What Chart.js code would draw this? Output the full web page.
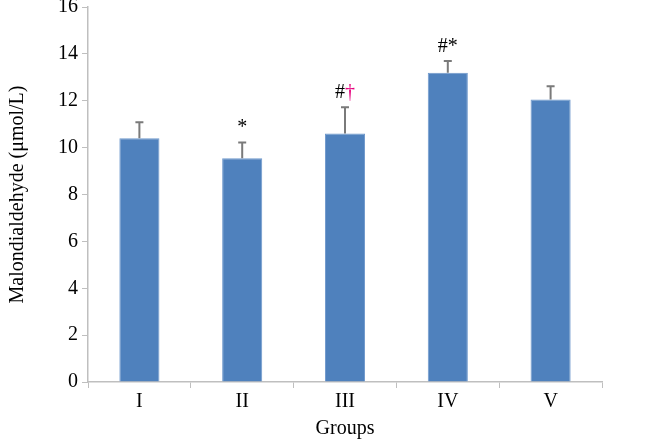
<!DOCTYPE html>
<html>
<head>
<meta charset="utf-8">
<script src="https://cdn.jsdelivr.net/npm/chart.js@4"></script>
<style>
  html, body { margin: 0; padding: 0; background: #fff; }
  #wrap { width: 662px; height: 441px; }
</style>
</head>
<body>
<div id="wrap"><canvas id="chart" width="662" height="441"></canvas></div>
<script>
const groups = ['I', 'II', 'III', 'IV', 'V']
const means = [10.4, 9.55, 10.6, 13.2, 12.05]
const errors = [0.68, 0.67, 1.12, 0.5, 0.57]
const marks = [[], [['*', '#000']], [['#', '#000'], ['†', '#e6007e']], [['#*', '#000']], []]

const serif = '"Liberation Serif", "DejaVu Serif", serif'

// upper error bars + significance marks
const errorBars = {
  id: 'errorBars',
  afterDatasetsDraw(chart) {
    const ctx = chart.ctx
    const x = chart.scales.x
    const y = chart.scales.y
    ctx.save()
    means.forEach((m, i) => {
      const cx = x.getPixelForValue(i)
      const yTop = y.getPixelForValue(m)
      const yErr = y.getPixelForValue(m + errors[i])
      ctx.strokeStyle = '#7a7a7a'
      ctx.lineWidth = 2
      ctx.beginPath()
      ctx.moveTo(cx, yTop)
      ctx.lineTo(cx, yErr)
      ctx.moveTo(cx - 4, yErr)
      ctx.lineTo(cx + 4, yErr)
      ctx.stroke()

      const parts = marks[i]
      if (!parts.length) return
      ctx.font = '20px ' + serif
      ctx.textBaseline = 'alphabetic'
      let total = 0
      parts.forEach(p => total += ctx.measureText(p[0]).width)
      let px = cx - total / 2
      parts.forEach(p => {
        ctx.fillStyle = p[1]
        ctx.textAlign = 'left'
        ctx.fillText(p[0], px, yErr - 9)
        px += ctx.measureText(p[0]).width
      })
    })
    ctx.restore()
  }
}

new Chart(document.getElementById('chart'), {
  type: 'bar',
  data: {
    labels: groups,
    datasets: [{
      data: means,
      backgroundColor: '#4f81bd',
      borderColor: '#6f98cc',
      borderWidth: 1,
      categoryPercentage: 1,
      barPercentage: 0.39
    }]
  },
  options: {
    responsive: false,
    animation: false,
    layout: { padding: { top: 0, right: 60, left: 0, bottom: 0 } },
    plugins: {
      legend: { display: false },
      tooltip: { enabled: false }
    },
    scales: {
      x: {
        grid: { offset: true, drawOnChartArea: false, color: '#bfbfbf', tickLength: 6 },
        border: { color: '#bfbfbf', width: 1.5 },
        ticks: { color: '#000', font: { family: serif, size: 20 }, padding: 2 },
        title: { display: true, text: 'Groups', color: '#000', font: { family: serif, size: 20 }, padding: { top: 4, bottom: 0 } },
        afterFit(s) { s.height = 59 }
      },
      y: {
        min: 0,
        max: 16,
        ticks: { stepSize: 2, color: '#000', font: { family: serif, size: 20 }, padding: 4 },
        grid: { drawOnChartArea: false, color: '#bfbfbf', tickLength: 6 },
        border: { color: '#bfbfbf', width: 1.5 },
        title: { display: true, text: 'Malondialdehyde (μmol/L)', color: '#000', font: { family: serif, size: 20 }, padding: { top: 6, bottom: 10 } },
        afterFit(s) { s.width = 88; s.paddingTop = 7 }
      }
    }
  },
  plugins: [errorBars]
})
</script>
</body>
</html>
